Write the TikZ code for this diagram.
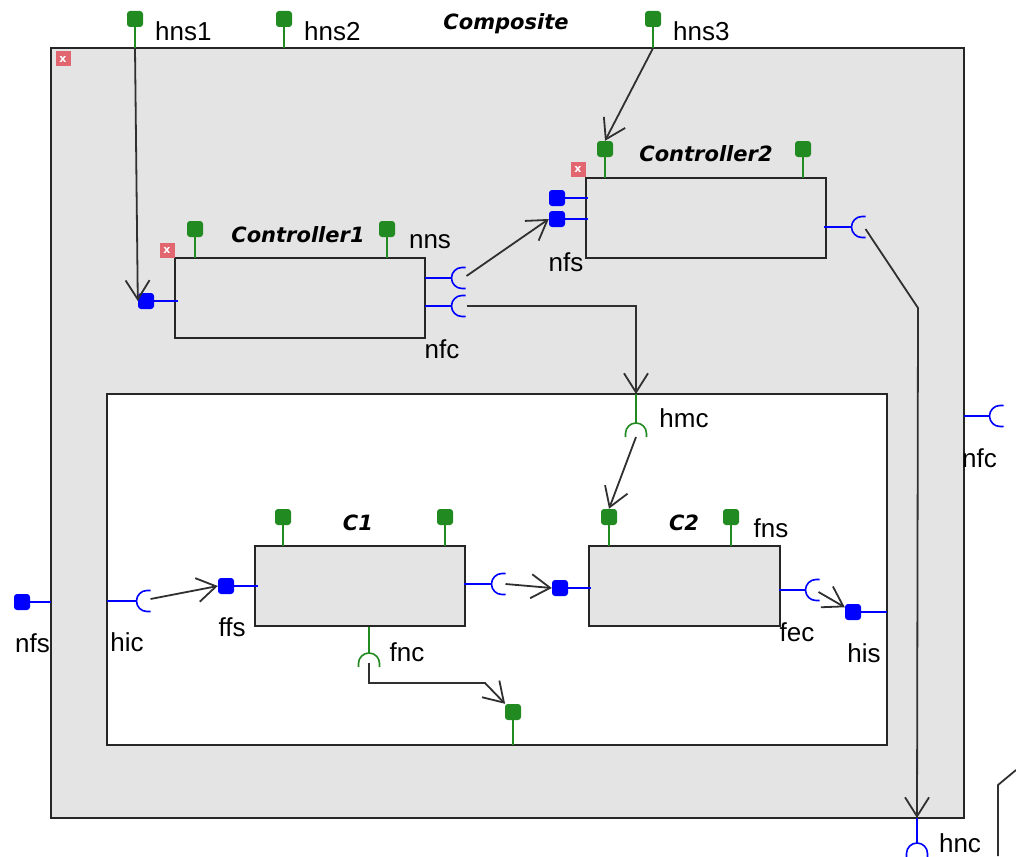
\documentclass[tikz,border=0pt]{standalone}
\usepackage{fontspec}
\setmainfont{Liberation Sans}
\newfontfamily\titlefont{DejaVu Sans}
\usepackage{tikz}
\usetikzlibrary{arrows.meta,positioning}
\definecolor{panelgrey}{HTML}{E4E4E4}
\definecolor{framegrey}{HTML}{262626}
\definecolor{portgreen}{HTML}{218A21}
\definecolor{portblue}{HTML}{0000FF}
\definecolor{linkgrey}{HTML}{303030}
\definecolor{markred}{HTML}{E2666F}
% socket opening right (#1 = back of the cup) and opening down (#2 = top of the cup)
\newcommand{\sockright}[1]{\draw[bwire] (#1) ++(14,-10.5) -- ++(-3.5,0) arc[start angle=90,end angle=270,radius=10.5pt] -- ++(3.5,0);}
\newcommand{\sockdown}[2][gwire]{\draw[#1] (#2) ++(-10.5,14) -- ++(0,-3.5) arc[start angle=180,end angle=0,radius=10.5pt] -- ++(0,3.5);}

\begin{document}
\begin{tikzpicture}[x=1pt, y=-1pt,
  panel/.style={draw=framegrey, line width=2pt, fill=#1, inner sep=0pt, outer sep=0pt, anchor=north west},
  gport/.style={fill=portgreen, rounded corners=3pt, minimum size=16pt, inner sep=0pt},
  bport/.style={fill=portblue, rounded corners=3pt, minimum size=16pt, inner sep=0pt},
  gwire/.style={portgreen, line width=1.6pt},
  bwire/.style={portblue, line width=1.6pt},
  flow/.style={linkgrey, line width=1.8pt, -{Straight Barb[length=19pt,width=24pt]}},
  wirebk/.style={linkgrey, line width=1.8pt},
  lbl/.style={font=\fontsize{26}{28}\selectfont, inner sep=0pt},
  titletext/.style={font=\titlefont\bfseries\itshape\fontsize{21}{24}\selectfont, inner sep=0pt},
  xmark/.style={fill=markred, minimum size=15pt, inner sep=0pt, text=white, font=\titlefont\bfseries\fontsize{11}{11}\selectfont}]
  \useasboundingbox (0,0) rectangle (1016,856);
  \fill[white] (0,0) rectangle (1016,856);

  % composite and inner panel
  \node[panel=panelgrey, minimum width=913pt, minimum height=770pt] (composite) at (51,48) {};
  \node[titletext] (composite-t) at (506,24) {Composite};
  \node[xmark] (composite-x) at (63,59) {x};
  \node[panel=white, minimum width=780pt, minimum height=351pt] (inner) at (107,394) {};

  % components
  \node[panel=panelgrey, minimum width=250pt, minimum height=80pt] (ctrl1) at (175,258) {};
  \node[titletext] (ctrl1-t) at (298,235) {Controller1};
  \node[xmark] (ctrl1-x) at (167,250) {x};
  \node[panel=panelgrey, minimum width=240pt, minimum height=80pt] (ctrl2) at (586,178) {};
  \node[titletext] (ctrl2-t) at (706,154) {Controller2};
  \node[xmark] (ctrl2-x) at (578,169) {x};
  \node[panel=panelgrey, minimum width=210pt, minimum height=80pt] (c1) at (255,546) {};
  \node[titletext] (c1-t) at (358,523) {C1};
  \node[panel=panelgrey, minimum width=191pt, minimum height=80pt] (c2) at (589,546) {};
  \node[titletext] (c2-t) at (684,523) {C2};

  % green ports with stems down
  \foreach \p/\x/\y in {hns1/135/19, hns2/284/19, hns3/653/19, ctrl1-g1/195/229, ctrl1-g2/387/229,
      ctrl2-g1/605/149, ctrl2-g2/803/149, c1-g1/283/517, c1-g2/445/517, c2-g1/609/517, c2-g2/731/517}{
    \node[gport] (\p) at (\x,\y) {};
    \draw[gwire] (\p.south) -- ++(0,21) coordinate (\p-b);
  }
  \node[gport] (inner-g) at (513,712) {};
  \draw[gwire] (inner-g.south) -- (inner-g.south |- inner.south);

  % blue ports with wires
  \node[bport] (ctrl1-in) at (146,301) {};   \draw[bwire] (ctrl1-in.east) -- (178,301);
  \node[bport] (ctrl2-in1) at (557,198) {};  \draw[bwire] (ctrl2-in1.east) -- (588,198);
  \node[bport] (ctrl2-in2) at (557,219) {};  \draw[bwire] (ctrl2-in2.east) -- (588,219);
  \node[bport] (ffs) at (226,586) {};        \draw[bwire] (ffs.east) -- (258,586);
  \node[bport] (c2-in) at (560,588) {};      \draw[bwire] (c2-in.east) -- (591,588);
  \node[bport] (his) at (853,612) {};        \draw[bwire] (his.east) -- (887,612);
  \node[bport] (hfs) at (22,602) {};         \draw[bwire] (hfs.east) -- (51,602);

  % sockets
  \coordinate (ctrl1-s1) at (451.5,278);  \draw[bwire] (425,278) -- (ctrl1-s1); \sockright{ctrl1-s1}
  \coordinate (ctrl1-s2) at (451.5,306);  \draw[bwire] (425,306) -- (ctrl1-s2); \sockright{ctrl1-s2}
  \coordinate (ctrl2-s) at (851.5,227);   \draw[bwire] (824,227) -- (ctrl2-s);  \sockright{ctrl2-s}
  \coordinate (hfc) at (989.5,416);       \draw[bwire] (964,416) -- (hfc);      \sockright{hfc}
  \coordinate (hic) at (136.5,601);       \draw[bwire] (107,601) -- (hic);      \sockright{hic}
  \coordinate (c1-s) at (491.5,584);      \draw[bwire] (464,584) -- (c1-s);     \sockright{c1-s}
  \coordinate (c2-s) at (805.5,590);      \draw[bwire] (779,590) -- (c2-s);     \sockright{c2-s}
  \coordinate (hmc) at (636,423);         \draw[gwire] (636,394) -- (hmc);      \sockdown{hmc}
  \coordinate (fnc) at (369,653);         \draw[gwire] (369,627) -- (fnc);      \sockdown{fnc}
  \coordinate (hnc) at (917,843);         \draw[bwire] (917,818) -- (hnc);      \sockdown[bwire]{hnc}

  % connections
  \draw[flow] (hns1-b) -- (ctrl1-in.west);
  \draw[flow] (hns3-b) -- (ctrl2-g1.north);
  \draw[flow] ([shift={(15,-2)}]ctrl1-s1) -- (ctrl2-in2.west);
  \draw[flow] ([xshift=15pt]ctrl1-s2) -| (636,394);
  \draw[flow] ([shift={(14,2)}]ctrl2-s) -- (918,308) -- (917,818);
  \draw[flow] ([yshift=-14pt]hmc) -- (c2-g1.north);
  \draw[flow] ([shift={(14,-2)}]hic) -- (ffs.west);
  \draw[flow] ([xshift=14pt]c1-s) -- (c2-in.west);
  \draw[flow] ([shift={(13,2)}]c2-s) -- (his);
  \draw[flow] ([yshift=-10pt]fnc) -- (369,683) -- (485,683) -- (inner-g);
  \draw[wirebk] (1016,770) -- (998,785) -- (998,856);

  % labels
  \node[lbl, anchor=west] (hns1-l) at (155,31) {hns1};
  \node[lbl, anchor=west] (hns2-l) at (304,31) {hns2};
  \node[lbl, anchor=west] (hns3-l) at (673,31) {hns3};
  \node[lbl] (nns-l) at (430,242) {nns};
  \node[lbl] (nfc-l) at (442,349) {nfc};
  \node[lbl] (nfs-l) at (566,262) {nfs};
  \node[lbl] (hmc-l) at (684,418) {hmc};
  \node[lbl, anchor=west] (hfc-l) at (962,458) {nfc};
  \node[lbl, anchor=east] (hfs-l) at (50,643) {nfs};
  \node[lbl] (hic-l) at (127,642) {hic};
  \node[lbl] (ffs-l) at (232,627) {ffs};
  \node[lbl] (fnc-l) at (407,652) {fnc};
  \node[lbl] (fns-l) at (771,528) {fns};
  \node[lbl] (fec-l) at (797,632) {fec};
  \node[lbl] (his-l) at (864,653) {his};
  \node[lbl] (hnc-l) at (960,843) {hnc};
\end{tikzpicture}
\end{document}
